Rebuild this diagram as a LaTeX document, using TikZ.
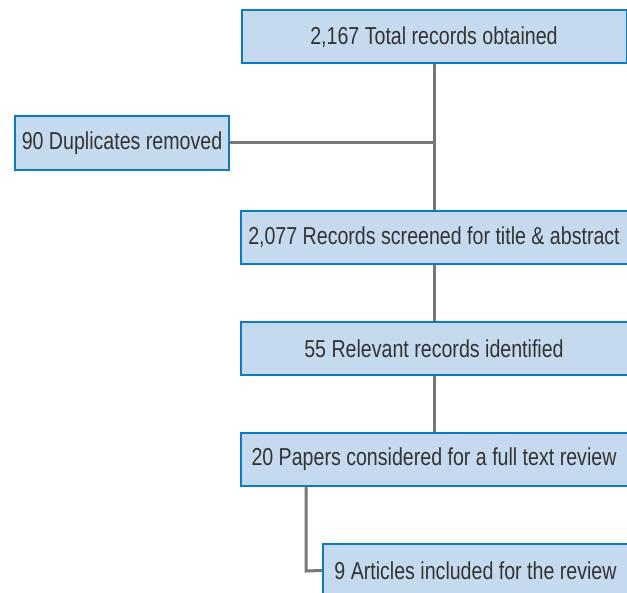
\documentclass[tikz,border=0pt]{standalone}
\usepackage{fontspec}
\setmainfont[FakeStretch=0.8]{Liberation Sans}
\definecolor{boxfill}{HTML}{C5DAEF}
\definecolor{boxline}{HTML}{0A7CC4}
\definecolor{conn}{HTML}{777777}
\definecolor{txt}{HTML}{333333}
\tikzset{
  rec/.style={draw=boxline, fill=boxfill, line width=2pt, text=txt, inner sep=0pt,
    font=\fontsize{24.5}{28}\selectfont, minimum height=53pt},
  link/.style={draw=conn, line width=3pt}
}
\begin{document}
\begin{tikzpicture}[x=1pt,y=-1pt]
\useasboundingbox (0,0) rectangle (627,593);
\node[rec, minimum width=385pt] (b1) at (434,37) {2,167 Total records obtained};
\node[rec, minimum width=214pt, minimum height=54pt] (dup) at (122,143) {90 Duplicates removed};
\node[rec, minimum width=387pt] (b2) at (434,237.5) {2,077 Records screened for title \& abstract};
\node[rec, minimum width=387pt] (b3) at (434,348.5) {55 Relevant records identified};
\node[rec, minimum width=387pt] (b4) at (434,459.5) {20 Papers considered for a full text review};
\node[rec, minimum width=305pt] (b5) at (475.5,570.5) {9 Articles included for the review};
\coordinate (j) at (434,143);
\coordinate (k) at (306,571);
\draw[link] (b1.south) -- (b2.north);
\draw[link] (dup.east) -- (j);
\draw[link] (b2.south) -- (b3.north);
\draw[link] (b3.south) -- (b4.north);
\draw[link] (b4.south -| k) -- (k) -- (b5.west);
\end{tikzpicture}
\end{document}
